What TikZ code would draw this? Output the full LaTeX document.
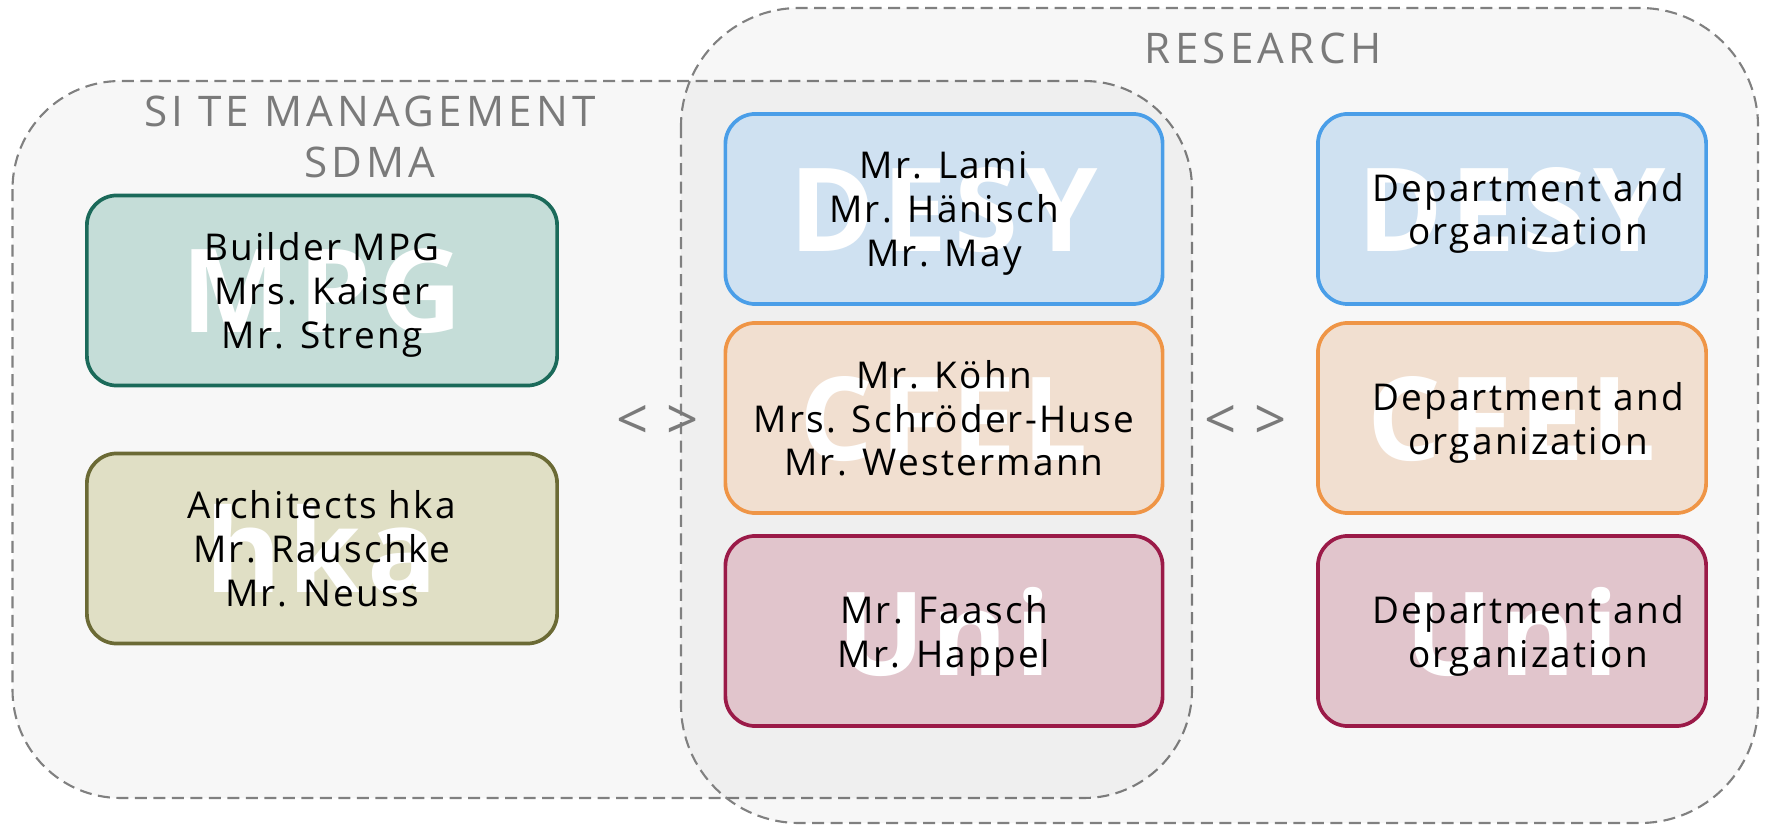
\documentclass[tikz,border=0pt]{standalone}
\usepackage{fontspec}
\newfontfamily\boxfont[LetterSpace=6]{Open Sans}
\newfontfamily\titlefont[LetterSpace=10]{Open Sans}
\newfontfamily\wmfont[LetterSpace=6]{Open Sans}

\definecolor{framegray}{HTML}{808080}
\definecolor{titlegray}{HTML}{7A7A7A}
\definecolor{mpgline}{HTML}{1B6A5A}
\definecolor{mpgfill}{HTML}{C5DDD8}
\definecolor{hkaline}{HTML}{6B6A35}
\definecolor{hkafill}{HTML}{E0DFC5}
\definecolor{desyline}{HTML}{4A9EE8}
\definecolor{desyfill}{HTML}{CFE1F1}
\definecolor{cfelline}{HTML}{EF9546}
\definecolor{cfelfill}{HTML}{F1DFD0}
\definecolor{uniline}{HTML}{9B1A48}
\definecolor{unifill}{HTML}{E1C5CC}

\tikzset{
  wmark/.style={draw=none, fill=none, text=white, inner sep=0pt,
    minimum width=0pt, minimum height=0pt, text depth=0pt,
    execute at begin node={},
    font=\wmfont\fontsize{33}{33}\selectfont\bfseries},
  orgbox/.style n args={3}{draw=#1, fill=#2, line width=1.05pt,
    rounded corners=0.3cm, minimum height=1.9cm, align=center,
    text depth=0pt, execute at begin node={\rule{0pt}{10.6pt}},
    font=\boxfont\fontsize{10.5}{12.5}\selectfont,
    path picture={\node[wmark] at (path picture bounding box.center) {#3};}},
}

\begin{document}
\begin{tikzpicture}[x=0.01cm, y=-0.01cm,
    frame/.style={draw=framegray, line width=0.6pt,
      dash pattern=on 0.12cm off 0.065cm, fill=black, fill opacity=0.03},
    grouptitle/.style={text=titlegray, align=center, inner sep=0pt,
      font=\titlefont\fontsize{12}{14.5}\selectfont},
    linksign/.style={text=titlegray, inner sep=0pt,
      font=\boxfont\fontsize{16}{16}\selectfont}
  ]
  \useasboundingbox (0,0) rectangle (1767,825);

  % the two groups
  \draw[frame, rounded corners=1.08cm] (12.5,81) rectangle (1192,798);
  \draw[frame, rounded corners=1.18cm] (681,8) rectangle (1758,823);

  \node[grouptitle] (sitetitle) at (370,136.5) {SI TE MANAGEMENT\\SDMA};
  \node[grouptitle] (restitle) at (1263,48) {RESEARCH};

  % site management
  \node[orgbox={mpgline}{mpgfill}{MPG}, minimum width=4.7cm] (mpg) at (322,290.5)
    {Builder MPG\\Mrs. Kaiser\\Mr. Streng};
  \node[orgbox={hkaline}{hkafill}{hka}, minimum width=4.7cm] (hka) at (322,548.5)
    {Architects hka\\Mr. Rauschke\\Mr. Neuss};

  % research, people
  \node[orgbox={desyline}{desyfill}{DESY}, minimum width=4.37cm] (desyA) at (944,209)
    {Mr. Lami\\Mr. Hänisch\\Mr. May};
  \node[orgbox={cfelline}{cfelfill}{CFEL}, minimum width=4.37cm] (cfelA) at (944,418)
    {Mr. Köhn\\Mrs. Schröder-Huse\\Mr. Westermann};
  \node[orgbox={uniline}{unifill}{Uni}, minimum width=4.37cm] (uniA) at (944,631)
    {Mr. Faasch\\Mr. Happel};

  % research, departments
  \node[orgbox={desyline}{desyfill}{DESY}, minimum width=3.88cm] (desyB) at (1512,209)
    {\hspace*{0.32cm}Department and\\\hspace*{0.32cm}organization};
  \node[orgbox={cfelline}{cfelfill}{CFEL}, minimum width=3.88cm] (cfelB) at (1512,418)
    {\hspace*{0.32cm}Department and\\\hspace*{0.32cm}organization};
  \node[orgbox={uniline}{unifill}{Uni}, minimum width=3.88cm] (uniB) at (1512,631)
    {\hspace*{0.32cm}Department and\\\hspace*{0.32cm}organization};

  \node[linksign] (linkleft) at (658,422) {< >};
  \node[linksign] (linkright) at (1246,422) {< >};
\end{tikzpicture}
\end{document}
